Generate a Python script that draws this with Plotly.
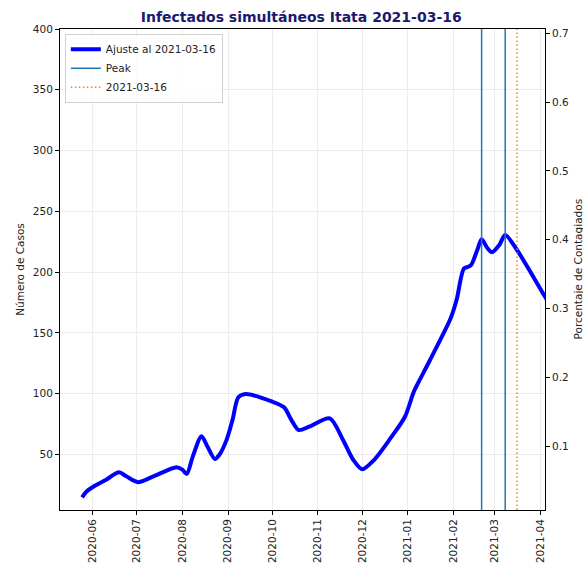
import plotly.graph_objects as go

# Fitted curve of simultaneous infections
fechas = [
    "2020-05-25", "2020-05-28", "2020-06-01", "2020-06-10", "2020-06-19", "2020-06-24",
    "2020-07-02", "2020-07-12", "2020-07-28", "2020-08-01", "2020-08-04", "2020-08-08",
    "2020-08-14", "2020-08-18", "2020-08-23", "2020-08-26", "2020-08-31", "2020-09-04",
    "2020-09-08", "2020-09-13", "2020-10-01", "2020-10-09", "2020-10-14", "2020-10-19",
    "2020-10-26", "2020-11-09", "2020-11-18", "2020-11-25", "2020-12-01", "2020-12-09",
    "2020-12-20", "2020-12-30", "2021-01-05", "2021-01-09", "2021-01-16", "2021-01-30",
    "2021-02-03", "2021-02-08", "2021-02-11", "2021-02-13", "2021-02-17", "2021-02-20",
    "2021-02-24", "2021-02-27", "2021-03-04", "2021-03-08", "2021-03-16", "2021-04-04",
    "2021-04-08",
]
casos = [
    14.7, 19.5, 23, 29, 35.3, 32,
    27.2, 31.7, 39.5, 37.5, 34, 48,
    65, 56.5, 46.3, 49.5, 62, 78.3,
    97, 99.7, 93.4, 88.8, 78.3, 70.1,
    72.8, 79.7, 61.9, 45.4, 37.8, 45.4,
    63, 81, 101.6, 111.3, 127.7, 162,
    177, 203, 204.4, 206, 218, 227,
    219.6, 216.3, 222.3, 230.5, 218.2, 179.8,
    172,
]
peaks = ["2021-02-20", "2021-03-08"]
fecha_corte = "2021-03-16"
poblacion_factor = 566.5   # casos per 1 % of population

y_range = [4.3, 400]
x_range = ["2020-05-10", "2021-04-04"]
ticks_x = ["2020-%02d-01" % m for m in range(6, 13)] + ["2021-%02d-01" % m for m in range(1, 5)]
font = "DejaVu Sans"

fig = go.Figure()

fig.add_trace(go.Scatter(
    x=fechas, y=casos,
    mode="lines",
    line=dict(color="#0000ff", width=4, shape="spline", smoothing=0.8),
    name="Ajuste al " + fecha_corte,
))

# invisible copy on the percentage axis so it gets drawn
fig.add_trace(go.Scatter(
    x=fechas, y=[c / poblacion_factor for c in casos],
    yaxis="y2", mode="lines", line=dict(width=0),
    hoverinfo="skip", showlegend=False,
))

for i, p in enumerate(peaks):
    fig.add_vline(
        x=p, line=dict(color="#1f77b4", width=1.5),
        name="Peak", showlegend=(i == 0), legendgroup="peak",
    )
fig.add_vline(
    x=fecha_corte, line=dict(color="#ff7f0e", width=1.5, dash="1.5px,2.5px"),
    name=fecha_corte, showlegend=True,
)

axis_common = dict(
    showline=True, linecolor="black", linewidth=1, mirror=False,
    ticks="outside", ticklen=4, tickcolor="black",
    tickfont=dict(family=font, size=10.5, color="#222"),
    zeroline=False,
)

# right axis title sits at the very edge of the window, placed by hand
fig.add_annotation(
    text="Porcentaje de Contagiados", textangle=-90,
    xref="paper", yref="paper", x=1, y=0.5, xanchor="center", yanchor="middle",
    xshift=32, showarrow=False,
    font=dict(family=font, size=10.5, color="#222"),
)

fig.update_layout(
    width=583, height=564,
    margin=dict(l=60, r=38, t=29, b=54, autoexpand=False),
    paper_bgcolor="white", plot_bgcolor="white",
    font=dict(family=font, size=10.5, color="#222"),
    title=dict(
        text="<b>Infectados simultáneos Itata 2021-03-16</b>",
        font=dict(family=font, size=14, color="#191970"),
        x=290 / 583, xref="paper", xanchor="center", y=1 - 17 / 564, yanchor="middle",
    ),
    xaxis=dict(
        axis_common, range=x_range, type="date",
        tickvals=ticks_x, tickformat="%Y-%m", tickangle=-90,
        showgrid=True, gridcolor="#ececec", gridwidth=1,
        mirror=True,
    ),
    yaxis=dict(
        axis_common, range=y_range,
        tickvals=[50, 100, 150, 200, 250, 300, 350, 400],
        showgrid=True, gridcolor="#ececec", gridwidth=1,
        title=dict(text="Número de Casos", font=dict(family=font, size=10.5), standoff=6),
    ),
    yaxis2=dict(
        axis_common, overlaying="y", side="right",
        range=[y_range[0] / poblacion_factor, y_range[1] / poblacion_factor],
        tickvals=[0.1, 0.2, 0.3, 0.4, 0.5, 0.6, 0.7],
        showgrid=False,
    ),
    legend=dict(
        x=0.01, y=0.99, xanchor="left", yanchor="top",
        bgcolor="rgba(255,255,255,0.8)", bordercolor="#d0d0d0", borderwidth=1,
        font=dict(family=font, size=10.5, color="#222"),
        tracegroupgap=0, itemwidth=30,
    ),
    showlegend=True,
)

# drop the default body margin so the figure fills the window exactly
fig.write_html(
    "out.html",
    config={"displayModeBar": False},
    post_script="document.body.style.margin='0';",
)
